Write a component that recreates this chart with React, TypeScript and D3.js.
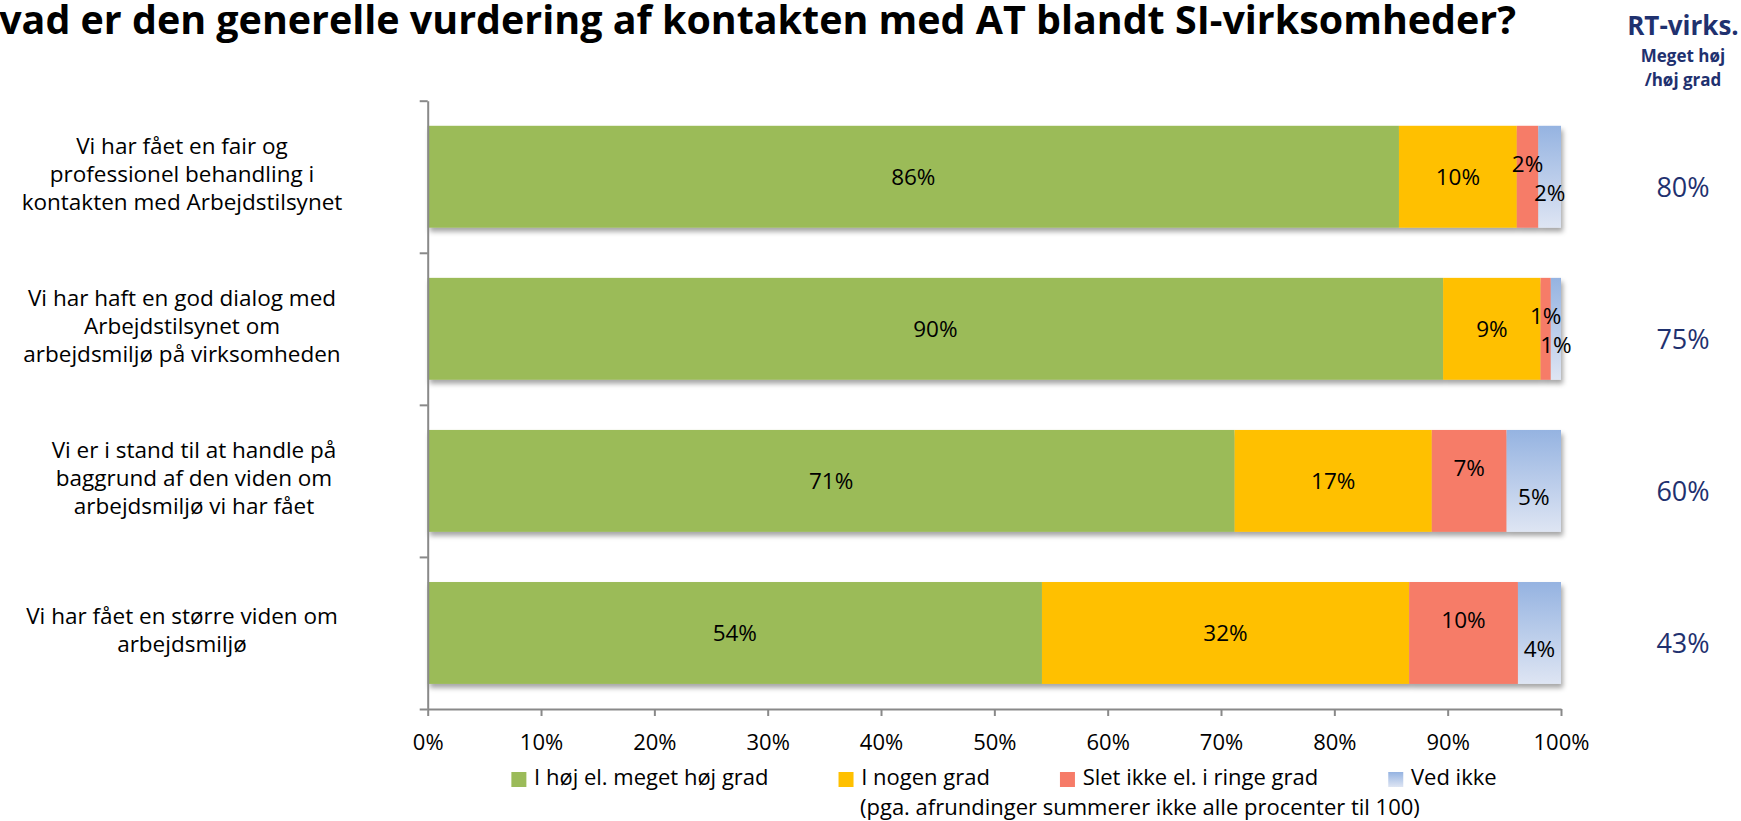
import React, { useEffect, useRef } from "react";
import * as d3 from "d3";

// question labels (one entry per wrapped line)
const categories = ["q1", "q2", "q3", "q4"];
const categoryLines = [
  ["Vi har fået en fair og", "professionel behandling i", "kontakten med Arbejdstilsynet"],
  ["Vi har haft en god dialog med", "Arbejdstilsynet om", "arbejdsmiljø på virksomheden"],
  ["Vi er i stand til at handle på", "baggrund af den viden om", "arbejdsmiljø vi har fået"],
  ["Vi har fået en større viden om", "arbejdsmiljø"],
];

const seriesNames = [
  "I høj el. meget høj grad",
  "I nogen grad",
  "Slet ikke el. i ringe grad",
  "Ved ikke",
];

// shares per question, same order as seriesNames
const hoej = [0.857, 0.896, 0.712, 0.542];
const nogen = [0.104, 0.086, 0.174, 0.324];
const slet = [0.019, 0.009, 0.066, 0.096];
const vedIkke = [0.02, 0.009, 0.048, 0.038];

const rtValues = ["80%", "75%", "60%", "43%"];
const xTicks = [0, 0.1, 0.2, 0.3, 0.4, 0.5, 0.6, 0.7, 0.8, 0.9, 1];

const title = "Hvad er den generelle vurdering af kontakten med AT blandt SI-virksomheder?";
const footnote = "(pga. afrundinger summerer ikke alle procenter til 100)";

const colors = ["#9BBB59", "#FFC000", "#F67B68", "url(#vedIkkeGrad)"];
const navy = "#1F316F";
const axisGray = "#898989";
const FONT = "'Open Sans', 'DejaVu Sans', sans-serif";

const App: React.FC = () => {
  const svgRef = useRef<SVGSVGElement | null>(null);

  useEffect(() => {
    if (!svgRef.current) return;
    const svg = d3.select(svgRef.current);
    svg.selectAll("*").remove();

    const width = 1741;
    const height = 821;
    svg.attr("width", width).attr("height", height);

    const defs = svg.append("defs");
    const grad = defs
      .append("linearGradient")
      .attr("id", "vedIkkeGrad")
      .attr("x1", 0)
      .attr("y1", 0)
      .attr("x2", 0)
      .attr("y2", 1);
    grad.append("stop").attr("offset", "0%").attr("stop-color", "#95B3E1");
    grad.append("stop").attr("offset", "100%").attr("stop-color", "#DEE5F3");

    defs
      .append("filter")
      .attr("id", "barShadow")
      .attr("x", "-5%")
      .attr("y", "-10%")
      .attr("width", "115%")
      .attr("height", "130%")
      .append("feDropShadow")
      .attr("dx", 2)
      .attr("dy", 4)
      .attr("stdDeviation", 2.5)
      .attr("flood-color", "#000")
      .attr("flood-opacity", 0.35);

    const x = d3.scaleLinear().domain([0, 1]).range([427.7, 1561]);
    const y = d3
      .scaleBand<string>()
      .domain(categories)
      .range([100.7, 709])
      .paddingInner(0.33)
      .paddingOuter(0.165);
    const yEdge = d3.scaleLinear().domain([0, categories.length]).range([100.7, 709]);

    const rows = categories.map((c, i) => {
      const vals = [hoej[i], nogen[i], slet[i], vedIkke[i]];
      let acc = 0;
      return {
        cat: c,
        segs: vals.map((v, s) => {
          const seg = { s, x0: acc, x1: acc + v, v };
          acc += v;
          return seg;
        }),
      };
    });

    // title (left edge is cut off in the original slide)
    svg
      .append("text")
      .attr("x", -31)
      .attr("y", 34)
      .attr("font-family", FONT)
      .attr("font-weight", 700)
      .attr("font-size", 40)
      .attr("textLength", 1547)
      .attr("lengthAdjust", "spacingAndGlyphs")
      .text(title);

    // right hand header
    const hdr = svg
      .append("g")
      .attr("font-family", FONT)
      .attr("font-weight", 700)
      .attr("fill", navy)
      .attr("text-anchor", "middle");
    hdr.append("text").attr("x", 1683).attr("y", 35).attr("font-size", 26).text("RT-virks.");
    hdr.append("text").attr("x", 1683).attr("y", 62).attr("font-size", 17).text("Meget høj");
    hdr.append("text").attr("x", 1683).attr("y", 86).attr("font-size", 17).text("/høj grad");

    // bars
    const rowG = svg
      .append("g")
      .selectAll("g.row")
      .data(rows)
      .enter()
      .append("g")
      .attr("class", "row")
      .attr("filter", "url(#barShadow)");

    rowG
      .selectAll("rect")
      .data((d) => d.segs.map((s) => ({ ...s, cat: d.cat })))
      .enter()
      .append("rect")
      .attr("x", (d) => x(d.x0))
      .attr("y", (d) => y(d.cat) as number)
      .attr("width", (d) => x(d.x1) - x(d.x0))
      .attr("height", y.bandwidth())
      .attr("fill", (d) => colors[d.s]);

    // data labels
    const labelDy = [0, 0, -13, 16];
    const labels = svg.append("g").attr("font-family", FONT).attr("font-size", 22.5).attr("fill", "#000");
    rows.forEach((r) => {
      const cy = (y(r.cat) as number) + y.bandwidth() / 2;
      r.segs.forEach((s) => {
        labels
          .append("text")
          .attr("x", (x(s.x0) + x(s.x1)) / 2)
          .attr("y", cy + labelDy[s.s])
          .attr("dy", "0.35em")
          .attr("text-anchor", "middle")
          .text(`${Math.round(s.v * 100)}%`);
      });
    });

    // category labels
    const labelShift = [0, 0, 12, 0];
    const catG = svg.append("g").attr("font-family", FONT).attr("font-size", 22.5).attr("fill", "#000");
    categories.forEach((c, i) => {
      const cy = (y(c) as number) + y.bandwidth() / 2 - 3;
      const lines = categoryLines[i];
      lines.forEach((ln, j) => {
        catG
          .append("text")
          .attr("x", 182 + labelShift[i])
          .attr("y", cy + (j - (lines.length - 1) / 2) * 28)
          .attr("dy", "0.35em")
          .attr("text-anchor", "middle")
          .text(ln);
      });
    });

    // RT values
    const rtG = svg.append("g").attr("font-family", FONT).attr("font-size", 27).attr("fill", navy);
    categories.forEach((c, i) => {
      rtG
        .append("text")
        .attr("x", 1683)
        .attr("y", (y(c) as number) + y.bandwidth() / 2 + 11)
        .attr("dy", "0.35em")
        .attr("text-anchor", "middle")
        .text(rtValues[i]);
    });

    // axes
    const yAxis = d3
      .axisLeft(yEdge)
      .tickValues(d3.range(0, categories.length + 1))
      .tickFormat(() => "")
      .tickSize(8)
      .tickSizeOuter(0);
    const gy = svg.append("g").attr("transform", `translate(${x(0)},0)`).call(yAxis);

    const xAxis = d3
      .axisBottom(x)
      .tickValues(xTicks)
      .tickFormat(d3.format(".0%"))
      .tickSize(7)
      .tickSizeOuter(0)
      .tickPadding(18);
    const gx = svg.append("g").attr("transform", `translate(0,${yEdge(categories.length)})`).call(xAxis);

    [gx, gy].forEach((g) => {
      g.select(".domain").attr("stroke", axisGray).attr("stroke-width", 2);
      g.selectAll(".tick line").attr("stroke", axisGray).attr("stroke-width", 2);
    });
    gx.selectAll(".tick text")
      .attr("font-family", FONT)
      .attr("font-size", 22)
      .attr("fill", "#000");

    // legend
    const leg = svg.append("g").attr("font-family", FONT).attr("font-size", 22);
    const items = seriesNames.map((name, i) => {
      const g = leg.append("g");
      g.append("rect").attr("width", 15).attr("height", 15).attr("y", 772).attr("fill", colors[i]);
      const t = g.append("text").attr("x", 22.7).attr("y", 785).attr("fill", "#000").text(name);
      const w = (t.node() as SVGTextElement).getComputedTextLength();
      return { g, w: 22.7 + w };
    });
    const gap = 70;
    const total = d3.sum(items, (d) => d.w) + gap * (items.length - 1);
    let lx = 1004 - total / 2;
    items.forEach((it) => {
      it.g.attr("transform", `translate(${lx},0)`);
      lx += it.w + gap;
    });

    svg
      .append("text")
      .attr("x", 860)
      .attr("y", 815)
      .attr("font-family", FONT)
      .attr("font-size", 22)
      .attr("fill", "#000")
      .text(footnote);
  }, []);

  return (
    <svg
      ref={svgRef}
      style={{ position: "absolute", left: 0, top: 0, background: "#fff" }}
    ></svg>
  );
};

export default App;
